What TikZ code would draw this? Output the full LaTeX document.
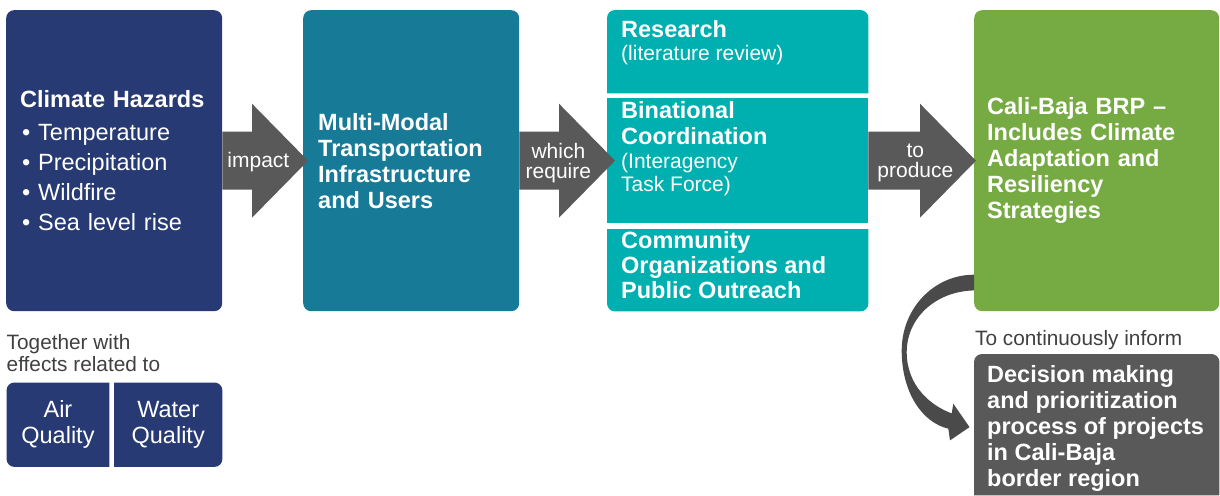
\documentclass[tikz,border=0pt]{standalone}
\usepackage{fontspec}
\setmainfont{Liberation Sans}
\usetikzlibrary{positioning,calc,backgrounds}

\definecolor{hazblue}{HTML}{283A73}
\definecolor{infrablue}{HTML}{177B97}
\definecolor{stepteal}{HTML}{00B0B0}
\definecolor{brpgreen}{HTML}{76AB43}
\definecolor{arrowgray}{HTML}{595959}
\definecolor{labelgray}{HTML}{404040}
\definecolor{curvegray}{HTML}{4A4A4A}

\tikzset{
  panel/.style={rectangle, inner sep=0pt, text=white, align=left, anchor=north west},
  boldtxt/.style={font=\fontsize{23.5}{26}\selectfont\bfseries},
  lbl/.style={text=white, align=center, inner sep=0pt, font=\fontsize{21}{20}\selectfont},
  note/.style={text=labelgray, align=left, inner sep=0pt, font=\fontsize{20.8}{21.7}\selectfont},
}

\newcommand{\hd}[1]{{\fontsize{23.5}{23}\selectfont\bfseries #1}}
\newcommand{\itm}[1]{\makebox[18pt][l]{\hspace{2pt}\textbullet}#1}
\newcommand{\blockarrow}[3]{%
  \fill[arrowgray] ($(#1.east)+(0,29)$) -- ($(#2.west)+(#3-56,29)$) -- ($(#2.west)+(#3-56,57)$)
    -- ($(#2.west)+(#3,0)$) -- ($(#2.west)+(#3-56,-57)$) -- ($(#2.west)+(#3-56,-29)$)
    -- ($(#1.east)+(0,-29)$) -- cycle;}

\begin{document}
\begin{tikzpicture}[x=1pt,y=1pt]
	\useasboundingbox (0,0) rectangle (1220,-495);
	
	\node[panel, fill=hazblue, rounded corners=8pt, minimum width=216pt, minimum height=301pt, text width=188pt, inner xsep=14pt, font=\fontsize{23.5}{30}\selectfont] (haz) at (6,-10) {\textbf{Climate Hazards}\\[3pt]\itm{Temperature}\\\itm{Precipitation}\\\itm{Wildfire}\\\itm{Sea level rise}};
	\node[panel, fill=infrablue, rounded corners=8pt, minimum width=216pt, minimum height=301pt, text width=186pt, inner xsep=15pt, boldtxt] (mm) at (303,-10) {Multi-Modal\\Transportation\\Infrastructure\\and Users};
	
	\node[panel, minimum width=261pt, minimum height=83pt] (res) at (607,-10) {};
	\node[panel, fill=stepteal, minimum width=261pt, minimum height=125pt] (bin) at (607,-98) {};
	\node[panel, minimum width=261pt, minimum height=82pt] (com) at (607,-229) {};
	
	\node[panel, below right=10pt and 14pt of res.north west, font=\fontsize{21}{23}\selectfont] (rest) {\hd{Research}\\(literature review)};
	\node[panel, below right=3.5pt and 14pt of bin.north west, font=\fontsize{21}{23}\selectfont] (bint) {\hd{Binational}\\[3pt]\hd{Coordination}\\[1pt](Interagency\\Task Force)};
	\node[panel, below right=2.5pt and 14pt of com.north west, font=\fontsize{23.5}{25}\selectfont\bfseries] (comt) {Community\\Organizations and\\Public Outreach};
	
	\node[panel, fill=brpgreen, rounded corners=8pt, minimum width=245pt, minimum height=301pt, text width=219pt, inner xsep=13pt, boldtxt] (brp) at (974,-10) {Cali-Baja BRP --\\Includes Climate\\Adaptation and\\Resiliency\\Strategies};
	
	\node[panel, minimum width=245pt, minimum height=141pt] (dec) at (974,-354) {};
	\node[panel, boldtxt, below right=11.5pt and 13pt of dec.north west] (dect) {Decision making\\and prioritization\\process of projects\\in Cali-Baja\\border region};
	\node[note, above right=4pt and 1pt of dec.north west] (inf) {To continuously inform};
	
	\node[panel, minimum width=102.5pt, minimum height=84pt, align=center, font=\fontsize{23.5}{26}\selectfont] (air) at (6.5,-382.5) {Air\\Quality};
	\node[panel, minimum width=108pt, minimum height=84pt, align=center, font=\fontsize{23.5}{26}\selectfont] (water) at (114,-382.5) {Water\\Quality};
	\node[note, above right=11pt and 0pt of air.north west] (tog) {Together with\\effects related to};
	
	\begin{scope}[on background layer]
		\fill[stepteal] (res.south west) [rounded corners=8pt] -- (res.north west) -- (res.north east) [sharp corners] -- (res.south east) -- cycle;
		\fill[stepteal] (com.north east) [rounded corners=8pt] -- (com.south east) -- (com.south west) [sharp corners] -- (com.north west) -- cycle;
		\fill[arrowgray] (dec.south west) [rounded corners=8pt] -- (dec.north west) -- (dec.north east) [sharp corners] -- (dec.south east) -- cycle;
		\fill[hazblue] (air.north east) [rounded corners=8pt] -- (air.north west) -- (air.south west) [sharp corners] -- (air.south east) -- cycle;
		\fill[hazblue] (water.north west) [rounded corners=8pt] -- (water.north east) -- (water.south east) [sharp corners] -- (water.south west) -- cycle;
	\end{scope}
	
	\blockarrow{haz}{mm}{5}
	\blockarrow{mm}{bin}{8}
	\blockarrow{bin}{brp}{2}
	
	\node[lbl] (imp) at ($(haz.east)+(36,-1)$) {impact};
	\node[lbl] (req) at ($(mm.east)+(39,-2.5)$) {which\\require};
	\node[lbl] (pro) at ($(bin.east)+(47,-2.5)$) {to\\produce};
	
	\begin{scope}[shift={(brp.south west)}]
		\fill[curvegray] (0,36.7) .. controls (-40,36.7) and (-72.3,3) .. (-72.3,-39) .. controls (-72.3,-81) and (-52,-111) .. (-25.7,-117.3) -- (-24,-129) -- (-4.5,-115.7) -- (-20.7,-92.3) -- (-22.3,-102) .. controls (-44,-94) and (-67.3,-74) .. (-67.3,-40.7) .. controls (-67.3,-7) and (-39,20) .. (0,21) -- cycle;
	\end{scope}
\end{tikzpicture}
\end{document}
